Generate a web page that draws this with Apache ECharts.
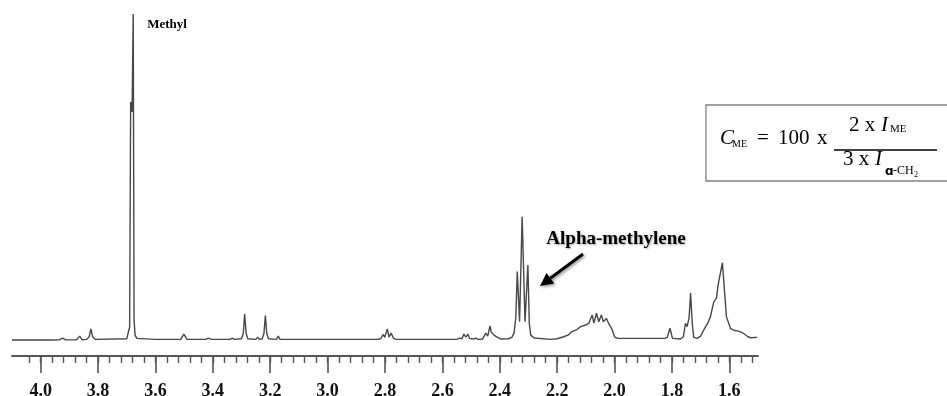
<!DOCTYPE html>
<html>
<head>
<meta charset="utf-8">
<script src="https://cdn.jsdelivr.net/npm/echarts@6/dist/echarts.min.js"></script>
<style>
html,body{margin:0;padding:0;background:#fff;}
#chart{width:947px;height:396px;}
</style>
</head>
<body>
<div id="chart"></div>
<script>
// chemical shift (ppm) of each point of the trace
var shifts = [
  4.10, 3.96, 3.935, 3.924, 3.913, 3.875, 3.864, 3.856, 3.840, 3.831, 3.825, 3.819, 3.810,
  3.700, 3.690, 3.6865, 3.6815, 3.6775, 3.6745, 3.671, 3.665,
  3.60, 3.512, 3.501, 3.490, 3.425, 3.415, 3.405, 3.340, 3.332, 3.324,
  3.300, 3.294, 3.289, 3.284, 3.278, 3.250, 3.244, 3.238,
  3.228, 3.222, 3.217, 3.212, 3.206, 3.178, 3.172, 3.166,
  2.830, 2.815, 2.806, 2.801, 2.792, 2.786, 2.779, 2.770, 2.760,
  2.550, 2.539, 2.532, 2.525, 2.518, 2.511, 2.505, 2.499, 2.492, 2.484, 2.476,
  2.460, 2.449, 2.442, 2.434, 2.430, 2.426, 2.420, 2.415, 2.408, 2.403, 2.395,
  2.370, 2.358, 2.350, 2.344, 2.339, 2.331, 2.322, 2.312, 2.302, 2.297, 2.292, 2.280,
  2.223, 2.200, 2.177, 2.160, 2.152, 2.147, 2.140, 2.130, 2.118, 2.101, 2.090,
  2.078, 2.072, 2.063, 2.055, 2.046, 2.039, 2.028, 2.020, 2.014, 2.008, 2.000, 1.989,
  1.900, 1.825, 1.816, 1.807, 1.798, 1.770, 1.760, 1.753, 1.747, 1.740, 1.735, 1.729, 1.724, 1.712,
  1.700, 1.689, 1.676, 1.666, 1.654, 1.645, 1.639, 1.633, 1.624, 1.617, 1.610, 1.596,
  1.585, 1.572, 1.568, 1.560, 1.550, 1.535, 1.526, 1.503
];
// relative intensity (tallest peak = 100)
var intensity = [
  0.0, 0.0, 0.05, 0.6, 0.05, 0.1, 1.2, 0.1, 0.2, 1.0, 3.4, 1.0, 0.2,
  0.4, 4.0, 73, 70, 100, 6.0, 1.5, 0.5,
  0.2, 0.2, 1.8, 0.2, 0.2, 0.6, 0.2, 0.2, 0.6, 0.2,
  0.4, 2.0, 8.0, 2.0, 0.4, 0.2, 0.9, 0.2,
  0.4, 2.0, 7.5, 2.0, 0.4, 0.2, 1.2, 0.2,
  0.2, 0.4, 1.7, 0.8, 3.4, 0.9, 2.1, 0.5, 0.2,
  0.2, 0.6, 0.4, 1.8, 0.9, 1.8, 0.5, 0.9, 0.3, 0.6, 0.2,
  0.3, 2.1, 1.2, 4.3, 2.5, 3.1, 1.5, 2.1, 0.8, 0.9, 0.3,
  0.4, 0.8, 2.2, 7.0, 21.0, 5.6, 37.8, 5.6, 23.0, 5.0, 1.5, 0.6,
  0.2, 0.4, 1.0, 1.6, 2.4, 2.0, 2.9, 3.3, 4.1, 4.6, 5.1,
  7.7, 5.2, 8.2, 5.6, 7.7, 5.6, 6.6, 5.0, 4.1, 3.1, 1.0, 0.5,
  0.5, 0.5, 0.8, 3.6, 0.5, 0.3, 1.0, 5.1, 4.1, 7.0, 14.4, 5.0, 0.8, 0.5,
  1.2, 3.1, 5.0, 7.1, 11.7, 12.8, 16.9, 17.4, 23.7, 15.3, 7.1, 3.6,
  3.0, 2.8, 3.1, 2.5, 2.0, 1.0, 0.7, 0.8
];
// axis ticks
var majorTicks = [4.0, 3.8, 3.6, 3.4, 3.2, 3.0, 2.8, 2.6, 2.4, 2.2, 2.0, 1.8, 1.6];
var minorTicks = [
  4.04, 4.00, 3.96, 3.92, 3.88, 3.84, 3.80, 3.76, 3.72, 3.68, 3.64, 3.60, 3.56, 3.52,
  3.48, 3.44, 3.40, 3.36, 3.32, 3.28, 3.24, 3.20, 3.16, 3.12, 3.08, 3.04, 3.00, 2.96,
  2.92, 2.88, 2.84, 2.80, 2.76, 2.72, 2.68, 2.64, 2.60, 2.56, 2.52, 2.48, 2.44, 2.40,
  2.36, 2.32, 2.28, 2.24, 2.20, 2.16, 2.12, 2.08, 2.04, 2.00, 1.96, 1.92, 1.88, 1.84,
  1.80, 1.76, 1.72, 1.68, 1.64, 1.60, 1.56, 1.52
];
var peakLabels = ['Methyl', 'Alpha-methylene'];

var seriesData = shifts.map(function (s, i) { return [s, intensity[i]]; });

var serif = '"Liberation Serif", "Times New Roman", serif';
var chart = echarts.init(document.getElementById('chart'), null, {renderer: 'canvas'});

function t(x, y, text, font) {
  return {type: 'text', x: x, y: y, style: {text: text, font: font, fill: '#000', verticalAlign: 'middle'}};
}

var option = {
  backgroundColor: '#ffffff',
  animation: false,
  grid: {left: 12, right: 189, top: 14, bottom: 40, containLabel: false, outerBoundsMode: 'none'},
  xAxis: [{
    type: 'value', min: 1.5, max: 4.1, inverse: true, position: 'bottom',
    axisLine: {show: true, onZero: false, lineStyle: {color: '#555', width: 2}},
    axisTick: {show: true, customValues: majorTicks, length: 17, lineStyle: {color: '#555', width: 1.6}},
    axisLabel: {
      show: true, customValues: majorTicks, margin: 26,
      formatter: function (v) { return v.toFixed(1); },
      color: '#111', fontFamily: serif, fontWeight: 'bold', fontSize: 18
    },
    splitLine: {show: false}
  }, {
    type: 'value', min: 1.5, max: 4.1, inverse: true, position: 'bottom',
    axisLine: {show: false, onZero: false},
    axisTick: {show: true, customValues: minorTicks, length: 7, lineStyle: {color: '#555', width: 1.4}},
    axisLabel: {show: false},
    splitLine: {show: false}
  }],
  yAxis: {type: 'value', min: -4.9, max: 100, show: false},
  series: [{
    type: 'line', xAxisIndex: 0, data: seriesData, showSymbol: false, smooth: false,
    clip: false,
    lineStyle: {color: '#474747', width: 1.4}
  }],
  graphic: [
    {type: 'text', x: 167, y: 25, style: {
      text: peakLabels[0], font: 'bold 13px ' + serif, fill: '#000',
      align: 'center', verticalAlign: 'middle'}},
    {type: 'text', x: 616, y: 239, style: {
      text: peakLabels[1], font: 'bold 19px ' + serif, fill: '#000',
      align: 'center', verticalAlign: 'middle',
      textShadowColor: 'rgba(0,0,0,0.35)', textShadowBlur: 2, textShadowOffsetX: 1, textShadowOffsetY: 1}},
    // arrow
    {type: 'line', shape: {x1: 583, y1: 254, x2: 550, y2: 278.5},
      style: {stroke: '#000', lineWidth: 3, shadowColor: 'rgba(0,0,0,0.4)', shadowBlur: 3, shadowOffsetX: 1.5, shadowOffsetY: 1.5}},
    {type: 'polygon', shape: {points: [[540, 286], [554.2, 283.5], [546.5, 273]]},
      style: {fill: '#000', shadowColor: 'rgba(0,0,0,0.4)', shadowBlur: 3, shadowOffsetX: 1.5, shadowOffsetY: 1.5}},
    // formula box
    {type: 'rect', shape: {x: 706, y: 105, width: 260, height: 76},
      style: {fill: '#fff', stroke: '#808080', lineWidth: 1.3}},
    t(720, 138.5, 'C', 'italic 21px ' + serif),
    t(732, 144.5, 'ME', '10px ' + serif),
    t(757, 138.5, '=', '21px ' + serif),
    t(778, 138.5, '100', '21px ' + serif),
    t(817, 138.5, 'x', '21px ' + serif),
    t(849, 125, '2 x', '21px ' + serif),
    t(881, 125, 'I', 'italic 21px ' + serif),
    t(890, 129.5, 'ME', '11px ' + serif),
    {type: 'line', shape: {x1: 834, y1: 150, x2: 937, y2: 150}, style: {stroke: '#000', lineWidth: 1.6}},
    t(843, 159, '3 x', '21px ' + serif),
    t(875, 159, 'I', 'italic 21px ' + serif),
    t(885, 171.5, '\u0251', 'bold 12px "DejaVu Sans", sans-serif'),
    t(893, 171, '-CH', '12px ' + serif),
    t(914, 175, '2', '8px ' + serif)
  ]
};
chart.setOption(option);
</script>
</body>
</html>
